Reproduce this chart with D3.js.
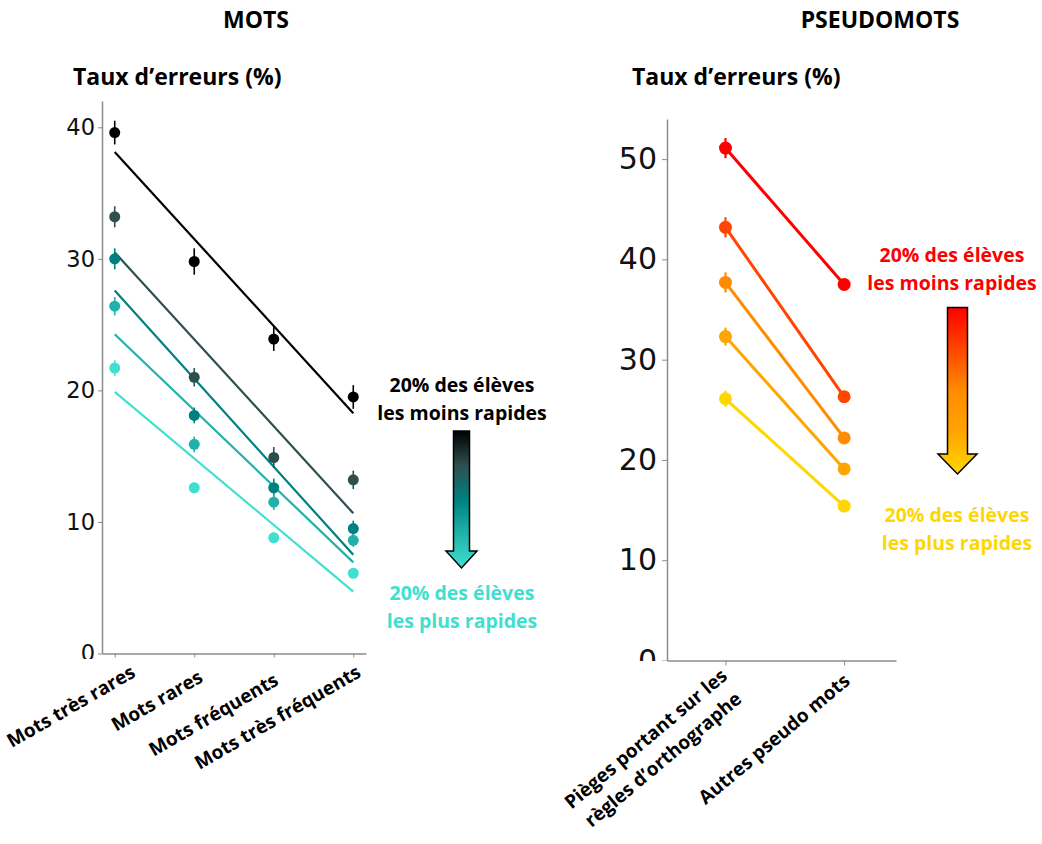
<!DOCTYPE html>
<html>
<head>
<meta charset="utf-8">
<script src="https://cdn.jsdelivr.net/npm/d3@7"></script>
<style>
  body { margin: 0; background: #fff; }
  text { font-family: "Open Sans", Lato, sans-serif; }
</style>
</head>
<body>
<script>
// --- données : taux d'erreurs (%) par quintile de vitesse ---
const catsMots = ['Mots très rares', 'Mots rares', 'Mots fréquents', 'Mots très fréquents'];
const motsQ1 = [39.6, 29.8, 23.9, 19.5]; // 20% les moins rapides
const motsQ2 = [33.2, 21.0, 14.9, 13.2];
const motsQ3 = [30.0, 18.1, 12.6, 9.5];
const motsQ4 = [26.4, 15.9, 11.5, 8.6];
const motsQ5 = [21.7, 12.6, 8.8, 6.1];   // 20% les plus rapides
const motsErr = [
  [0.9, 1.0, 0.9, 0.9],
  [0.8, 0.7, 0.8, 0.7],
  [0.8, 0.6, 0.7, 0.6],
  [0.7, 0.6, 0.6, 0.5],
  [0.6, 0.4, 0.4, 0.3]
];
const motsTicks = [0, 10, 20, 30, 40];

const catsPseudo = [['Pièges portant sur les', 'règles d’orthographe'], ['Autres pseudo mots']];
const pseudoQ1 = [51.1, 37.5];
const pseudoQ2 = [43.2, 26.3];
const pseudoQ3 = [37.7, 22.2];
const pseudoQ4 = [32.3, 19.1];
const pseudoQ5 = [26.1, 15.4];
const pseudoErr = [[1.0, 0.4], [1.0, 0.4], [1.0, 0.4], [0.9, 0.3], [0.8, 0.3]];
const pseudoTicks = [0, 10, 20, 30, 40, 50];

const colorsMots = ['#000000', '#2F4F4F', '#008080', '#20B2AA', '#40E0D0'];
const colorsPseudo = ['#FF0000', '#FF4500', '#FF8C00', '#FFA500', '#FFD700'];

// décalages des étiquettes posées à la main dans la figure d'origine (dx, dy)
const nudgeMots = [[22, -7], [10, -2], [6, 1], [9, -7]];
const nudgePseudo = [[3, -4], [7, 1]];

const svg = d3.select('body').append('svg')
  .attr('width', 1042)
  .attr('height', 844);

const defs = svg.append('defs');

// droite des moindres carrés sur les catégories
function fit(vals) {
  const xs = vals.map((v, i) => i);
  const mx = d3.mean(xs), my = d3.mean(vals);
  const b = d3.sum(xs, (x, i) => (x - mx) * (vals[i] - my)) / d3.sum(xs, x => (x - mx) * (x - mx));
  const a = my - b * mx;
  return [a, a + b * (vals.length - 1)];
}

function styleAxis(g) {
  g.select('.domain').attr('stroke', '#8c8c8c').attr('stroke-width', 1.5);
  g.selectAll('.tick line').attr('stroke', '#8c8c8c').attr('stroke-width', 1);
}

// ================= MOTS =================
const seriesMots = [motsQ1, motsQ2, motsQ3, motsQ4, motsQ5];

const xL = d3.scalePoint().domain(catsMots).range([102, 366]).padding(0.16);
const yL = d3.scaleLinear().domain([0, 42]).range([653.5, 101]);

// le "0" est coupé en bas dans l'original
defs.append('clipPath').attr('id', 'clipL')
  .append('rect').attr('x', -120).attr('y', 0).attr('width', 400).attr('height', 659);

const gyL = svg.append('g')
  .attr('transform', 'translate(102,0)')
  .attr('clip-path', 'url(#clipL)')
  .call(d3.axisLeft(yL).tickValues(motsTicks).tickSize(4).tickPadding(3).tickSizeOuter(0));

const gxL = svg.append('g')
  .attr('transform', 'translate(0,653.5)')
  .call(d3.axisBottom(xL).tickSize(4).tickSizeOuter(0).tickFormat(''));

styleAxis(gyL);
styleAxis(gxL);
gyL.selectAll('.tick text')
  .style('font-family', '"DejaVu Sans", sans-serif')
  .attr('font-size', 22.5).attr('fill', '#111');

// droites de tendance
svg.append('g').selectAll('line')
  .data(seriesMots)
  .enter().append('line')
  .attr('x1', xL(catsMots[0]))
  .attr('x2', xL(catsMots[catsMots.length - 1]))
  .attr('y1', d => yL(fit(d)[0]))
  .attr('y2', d => yL(fit(d)[1]))
  .attr('stroke', (d, i) => colorsMots[i])
  .attr('stroke-width', 2.2);

// points + barres d'erreur
const ptsMots = [];
seriesMots.forEach((s, i) => s.forEach((v, j) => ptsMots.push({ s: i, c: catsMots[j], v: v, e: motsErr[i][j] })));

const gpL = svg.append('g');
gpL.selectAll('line')
  .data(ptsMots)
  .enter().append('line')
  .attr('x1', d => xL(d.c)).attr('x2', d => xL(d.c))
  .attr('y1', d => yL(d.v - d.e)).attr('y2', d => yL(d.v + d.e))
  .attr('stroke', d => colorsMots[d.s])
  .attr('stroke-width', 1.6);
gpL.selectAll('circle')
  .data(ptsMots)
  .enter().append('circle')
  .attr('cx', d => xL(d.c))
  .attr('cy', d => yL(d.v))
  .attr('r', 5.5)
  .attr('fill', d => colorsMots[d.s]);

// étiquettes de catégories
svg.append('g').selectAll('text')
  .data(catsMots)
  .enter().append('text')
  .attr('transform', (d, i) => `translate(${xL(d) + nudgeMots[i][0]},${683 + nudgeMots[i][1]}) rotate(-30)`)
  .attr('text-anchor', 'end')
  .attr('font-size', 19)
  .attr('font-weight', 'bold')
  .attr('fill', '#000')
  .text(d => d);

svg.append('text').attr('x', 256).attr('y', 28).attr('text-anchor', 'middle')
  .attr('font-size', 23).attr('font-weight', 'bold').text('MOTS');
svg.append('text').attr('x', 73).attr('y', 85)
  .attr('font-size', 23).attr('font-weight', 'bold').text('Taux d’erreurs (%)');

// ================= PSEUDOMOTS =================
const seriesPseudo = [pseudoQ1, pseudoQ2, pseudoQ3, pseudoQ4, pseudoQ5];
const pseudoKeys = catsPseudo.map(c => c.join(' '));

const xR = d3.scalePoint().domain(pseudoKeys).range([667, 896]).padding(0.465).align(0.53);
const yR = d3.scaleLinear().domain([0, 54]).range([660.5, 119]);

defs.append('clipPath').attr('id', 'clipR')
  .append('rect').attr('x', -120).attr('y', 0).attr('width', 400).attr('height', 661);

const gyR = svg.append('g')
  .attr('transform', 'translate(667,0)')
  .attr('clip-path', 'url(#clipR)')
  .call(d3.axisLeft(yR).tickValues(pseudoTicks).tickSize(5).tickPadding(5).tickSizeOuter(0));

const gxR = svg.append('g')
  .attr('transform', 'translate(0,660.5)')
  .call(d3.axisBottom(xR).tickSize(5).tickSizeOuter(0).tickFormat(''));

styleAxis(gyR);
styleAxis(gxR);
gyR.selectAll('.tick text')
  .style('font-family', '"DejaVu Sans", sans-serif')
  .attr('font-size', 30).attr('fill', '#111');

const line = d3.line()
  .x((d, j) => xR(pseudoKeys[j]))
  .y(d => yR(d));

svg.append('g').selectAll('path')
  .data(seriesPseudo)
  .enter().append('path')
  .attr('d', d => line(d))
  .attr('fill', 'none')
  .attr('stroke', (d, i) => colorsPseudo[i])
  .attr('stroke-width', 3);

const ptsPseudo = [];
seriesPseudo.forEach((s, i) => s.forEach((v, j) => ptsPseudo.push({ s: i, c: pseudoKeys[j], v: v, e: pseudoErr[i][j] })));

const gpR = svg.append('g');
gpR.selectAll('line')
  .data(ptsPseudo)
  .enter().append('line')
  .attr('x1', d => xR(d.c)).attr('x2', d => xR(d.c))
  .attr('y1', d => yR(d.v - d.e)).attr('y2', d => yR(d.v + d.e))
  .attr('stroke', d => colorsPseudo[d.s])
  .attr('stroke-width', 2.2);
gpR.selectAll('circle')
  .data(ptsPseudo)
  .enter().append('circle')
  .attr('cx', d => xR(d.c))
  .attr('cy', d => yR(d.v))
  .attr('r', 6.5)
  .attr('fill', d => colorsPseudo[d.s]);

// étiquettes (une ou deux lignes, centrées entre elles)
catsPseudo.forEach((lines, k) => {
  const g = svg.append('g')
    .attr('transform', `translate(${xR(pseudoKeys[k]) + nudgePseudo[k][0]},${682 + nudgePseudo[k][1]}) rotate(-40)`);
  const first = g.append('text')
    .attr('text-anchor', 'end')
    .attr('font-size', 19).attr('font-weight', 'bold')
    .text(lines[0]);
  const w = first.node().getComputedTextLength();
  lines.slice(1).forEach((t, n) => {
    g.append('text')
      .attr('x', -w / 2).attr('y', 27 * (n + 1))
      .attr('text-anchor', 'middle')
      .attr('font-size', 19).attr('font-weight', 'bold')
      .text(t);
  });
});

svg.append('text').attr('x', 880).attr('y', 28).attr('text-anchor', 'middle')
  .attr('font-size', 23).attr('font-weight', 'bold').text('PSEUDOMOTS');
svg.append('text').attr('x', 632).attr('y', 85)
  .attr('font-size', 23).attr('font-weight', 'bold').text('Taux d’erreurs (%)');

// ================= légendes (flèches en dégradé) =================
function gradient(id, stops) {
  const lg = defs.append('linearGradient').attr('id', id)
    .attr('x1', 0).attr('y1', 0).attr('x2', 0).attr('y2', 1);
  stops.forEach((c, i) => lg.append('stop')
    .attr('offset', i / (stops.length - 1)).attr('stop-color', c));
}
gradient('gradMots', colorsMots);
gradient('gradPseudo', colorsPseudo);

function arrow(cx, top, bottom, shaftW, headW, headH, fillId) {
  const s = shaftW / 2, h = headW / 2, hy = bottom - headH;
  const pts = [[cx - s, top], [cx + s, top], [cx + s, hy], [cx + h, hy],
               [cx, bottom], [cx - h, hy], [cx - s, hy]];
  svg.append('path')
    .attr('d', 'M' + pts.map(p => p.join(',')).join('L') + 'Z')
    .attr('fill', `url(#${fillId})`)
    .attr('stroke', '#000')
    .attr('stroke-width', 1.5);
}

function legendText(cx, y, color, lines) {
  lines.forEach((t, i) => {
    svg.append('text')
      .attr('x', cx).attr('y', y + i * 28)
      .attr('text-anchor', 'middle')
      .attr('font-size', 19.5).attr('font-weight', 'bold')
      .attr('fill', color)
      .text(t);
  });
}

legendText(462, 392, colorsMots[0], ['20% des élèves', 'les moins rapides']);
arrow(461.5, 431, 568, 16, 31, 17, 'gradMots');
legendText(462, 600, colorsMots[4], ['20% des élèves', 'les plus rapides']);

legendText(952, 262, colorsPseudo[0], ['20% des élèves', 'les moins rapides']);
arrow(957.5, 307.5, 474, 20, 39, 20, 'gradPseudo');
legendText(957, 522, colorsPseudo[4], ['20% des élèves', 'les plus rapides']);
</script>
</body>
</html>
